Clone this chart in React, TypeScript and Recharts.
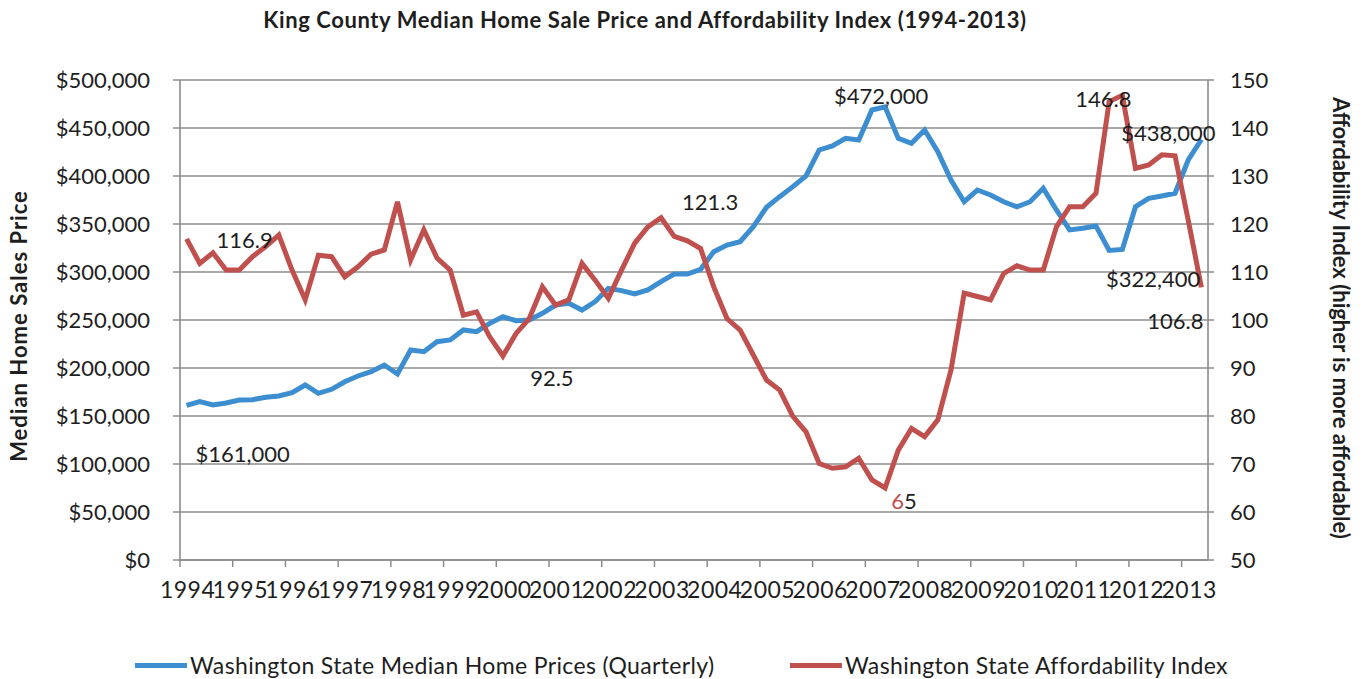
import React from 'react';
import { LineChart, Line, XAxis, YAxis, CartesianGrid, Legend, LabelList } from 'recharts';

const years = ['1994','1995','1996','1997','1998','1999','2000','2001','2002','2003','2004','2005','2006','2007','2008','2009','2010','2011','2012','2013'];

const medianPrice = [
  161000, 164900, 161500, 163500, 166700, 167000, 169500, 170800,
  174300, 182300, 173600, 177800, 185700, 191700, 196200, 203100,
  193800, 218800, 217000, 227400, 229200, 239600, 237800, 246500,
  253400, 249300, 250000, 257000, 265600, 267400, 260400, 269100,
  283000, 280600, 277100, 281300, 290000, 297900, 297900, 302800,
  321200, 328100, 331600, 347200, 367400, 378500, 388900, 400000,
  427100, 431300, 439200, 437500, 468800, 472000, 439200, 434000,
  447900, 425300, 395800, 373200, 385400, 380200, 373200, 368000,
  373200, 387200, 364600, 343800, 345500, 347900, 322400, 323500,
  368000, 376700, 379200, 382000, 416700, 438000,
];

const affordIndex = [
  116.9, 111.8, 114.0, 110.4, 110.4, 113.2, 115.3, 117.7,
  110.4, 104.2, 113.5, 113.2, 109.0, 111.1, 113.7, 114.6,
  124.6, 112.5, 118.8, 112.9, 110.4, 101.0, 101.7, 96.5,
  92.5, 97.2, 100.3, 106.9, 103.1, 104.2, 111.8, 108.3,
  104.5, 110.4, 116.0, 119.4, 121.3, 117.4, 116.5, 114.9,
  106.9, 100.3, 97.9, 92.7, 87.5, 85.4, 79.9, 76.7,
  70.1, 69.1, 69.4, 71.2, 66.7, 65, 72.9, 77.4,
  75.7, 79.2, 89.6, 105.6, 104.9, 104.2, 109.7, 111.3,
  110.4, 110.4, 119.4, 123.6, 123.6, 126.4, 145.5, 146.8,
  131.6, 132.3, 134.4, 134.2, 120.8, 106.8,
];

const priceTicks = [0, 50000, 100000, 150000, 200000, 250000, 300000, 350000, 400000, 450000, 500000];
const indexTicks = [50, 60, 70, 80, 90, 100, 110, 120, 130, 140, 150];

const seriesNames = ['Washington State Median Home Prices (Quarterly)', 'Washington State Affordability Index'];
const titleText = 'King County Median Home Sale Price and Affordability Index (1994-2013)';
const leftTitle = 'Median Home Sales Price';
const rightTitle = 'Affordability Index (higher is more affordable)';

// data-label annotations (which point gets a label) and their visual offsets
const priceNotes = [
  { index: 0, dx: 56, dy: 48 },
  { index: 53, dx: -4, dy: -11 },
  { index: 70, dx: 44, dy: 28 },
  { index: 77, dx: -33, dy: -7 },
];
const indexNotes = [
  { index: 0, dx: 58, dy: 1 },
  { index: 24, dx: 49, dy: 21 },
  { index: 36, dx: 49, dy: -16 },
  { index: 53, dx: 19, dy: 12, split: true },
  { index: 71, dx: -19, dy: 3 },
  { index: 77, dx: -26, dy: 33 },
];

const data = medianPrice.map((p, i) => ({ i, price: p, index: affordIndex[i] }));

const W = 1368;
const H = 679;
const PLOT_L = 180;
const PLOT_R = 1208;
const N = medianPrice.length;
const HALF = (PLOT_R - PLOT_L) / N / 2;
const FONT = "Lato, 'Open Sans', sans-serif";
const BLUE = '#3C8ED0';
const RED = '#C0504D';
const GRID = '#8c8c8c';
const TXT = '#1e1e1e';

const fmtPrice = (v: number) => '$' + v.toLocaleString('en-US');

const XTick = (props: any) => {
  const { x, y, payload } = props;
  const k = Math.round(payload.value / 4);
  return (
    <g>
      <line x1={x - HALF} x2={x - HALF} y1={y} y2={y + 7} stroke={GRID} strokeWidth={1.5} />
      <text x={x + 1} y={y + 38} textAnchor="middle" fontSize={23} letterSpacing={0.5} fontFamily={FONT} fill={TXT}>
        {years[k]}
      </text>
    </g>
  );
};

const makeLabel = (notes: any[], fmt: (v: number) => string) => (props: any) => {
  const note = notes.find((n) => n.index === props.index);
  if (!note) return null;
  const x = props.x ?? props.viewBox?.x;
  const y = props.y ?? props.viewBox?.y;
  if (x == null || y == null) return null;
  const s = fmt(Number(props.value));
  return (
    <text
      x={x + note.dx}
      y={y + note.dy}
      textAnchor="middle"
      dominantBaseline="central"
      fontSize={22}
      fontFamily={FONT}
      fill={TXT}
    >
      {note.split ? (
        <>
          <tspan fill={RED}>{s.slice(0, 1)}</tspan>
          <tspan>{s.slice(1)}</tspan>
        </>
      ) : (
        s
      )}
    </text>
  );
};

const LeftTitle = (props: any) => {
  const vb = props.viewBox || {};
  const cx = (vb.x ?? 0) + 18;
  const cy = (vb.y ?? 80) + (vb.height ?? 480) / 2 + 6;
  return (
    <text
      x={cx}
      y={cy}
      transform={`rotate(-90, ${cx}, ${cy})`}
      textAnchor="middle"
      dominantBaseline="central"
      fontSize={22}
      letterSpacing={1}
      fontWeight="bold"
      fontFamily={FONT}
      fill={TXT}
    >
      {leftTitle}
    </text>
  );
};

const RightTitle = (props: any) => {
  const vb = props.viewBox || {};
  const cx = (vb.x ?? 1208) + 133;
  const cy = (vb.y ?? 80) + (vb.height ?? 480) / 2 - 2;
  return (
    <text
      x={cx}
      y={cy}
      transform={`rotate(90, ${cx}, ${cy})`}
      textAnchor="middle"
      dominantBaseline="central"
      fontSize={22}
      fontWeight="bold"
      fontFamily={FONT}
      fill={TXT}
    >
      {rightTitle}
    </text>
  );
};

const LegendContent = () => {
  const items = [
    { name: seriesNames[0], color: BLUE, left: 135 },
    { name: seriesNames[1], color: RED, left: 790 },
  ];
  return (
    <div style={{ position: 'relative', width: W, height: 30 }}>
      {items.map((it) => (
        <div
          key={it.name}
          style={{ position: 'absolute', left: it.left, top: 0, height: 30, display: 'flex', alignItems: 'center' }}
        >
          <div style={{ width: 52, height: 5, background: it.color, marginRight: 3 }} />
          <span
            style={{
              fontFamily: FONT,
              fontSize: 23,
              letterSpacing: '0.35px',
              color: TXT,
              lineHeight: '30px',
              whiteSpace: 'nowrap',
            }}
          >
            {it.name}
          </span>
        </div>
      ))}
    </div>
  );
};

export default function App() {
  return (
    <div style={{ position: 'absolute', left: 0, top: 0, width: W, height: H, background: '#fff' }}>
      <div
        style={{
          position: 'absolute',
          left: 0,
          top: 8,
          width: 1290,
          textAlign: 'center',
          fontFamily: FONT,
          fontWeight: 'bold',
          fontSize: 22,
          letterSpacing: '0.6px',
          lineHeight: '24px',
          color: TXT,
          whiteSpace: 'nowrap',
        }}
      >
        {titleText}
      </div>
      <LineChart width={W} height={H} data={data} margin={{ top: 80, right: 0, bottom: 0, left: 0 }}>
        <CartesianGrid yAxisId="left" vertical={false} stroke={GRID} strokeWidth={1.6} />
        <XAxis
          dataKey="i"
          type="number"
          domain={[-0.5, N - 0.5]}
          ticks={years.map((_, k) => k * 4)}
          interval={0}
          tickLine={false}
          tickSize={0}
          tickMargin={0}
          height={119}
          axisLine={{ stroke: GRID, strokeWidth: 1.6 }}
          tick={<XTick />}
        />
        <YAxis
          yAxisId="left"
          orientation="left"
          width={180}
          domain={[0, 500000]}
          ticks={priceTicks}
          interval={0}
          tickFormatter={fmtPrice}
          tick={{ fill: TXT, fontSize: 22, fontFamily: FONT }}
          tickSize={7}
          tickMargin={23}
          tickLine={{ stroke: GRID, strokeWidth: 1.5 }}
          axisLine={{ stroke: GRID, strokeWidth: 1.6 }}
          label={<LeftTitle />}
        />
        <YAxis
          yAxisId="right"
          orientation="right"
          width={160}
          domain={[50, 150]}
          ticks={indexTicks}
          interval={0}
          tick={{ fill: TXT, fontSize: 22, fontFamily: FONT }}
          tickSize={6}
          tickMargin={16}
          tickLine={{ stroke: GRID, strokeWidth: 1.5 }}
          axisLine={{ stroke: GRID, strokeWidth: 1.6 }}
          label={<RightTitle />}
        />
        <Legend
          layout="horizontal"
          verticalAlign="middle"
          align="center"
          wrapperStyle={{ position: 'absolute', top: 650, left: 0, width: W, height: 30 }}
          content={<LegendContent />}
        />
        <Line
          yAxisId="left"
          type="linear"
          dataKey="price"
          name={seriesNames[0]}
          stroke={BLUE}
          strokeWidth={5}
          dot={false}
          isAnimationActive={false}
        >
          <LabelList dataKey="price" content={makeLabel(priceNotes, fmtPrice)} />
        </Line>
        <Line
          yAxisId="right"
          type="linear"
          dataKey="index"
          name={seriesNames[1]}
          stroke={RED}
          strokeWidth={5}
          dot={false}
          isAnimationActive={false}
        >
          <LabelList dataKey="index" content={makeLabel(indexNotes, (v) => String(v))} />
        </Line>
      </LineChart>
    </div>
  );
}
